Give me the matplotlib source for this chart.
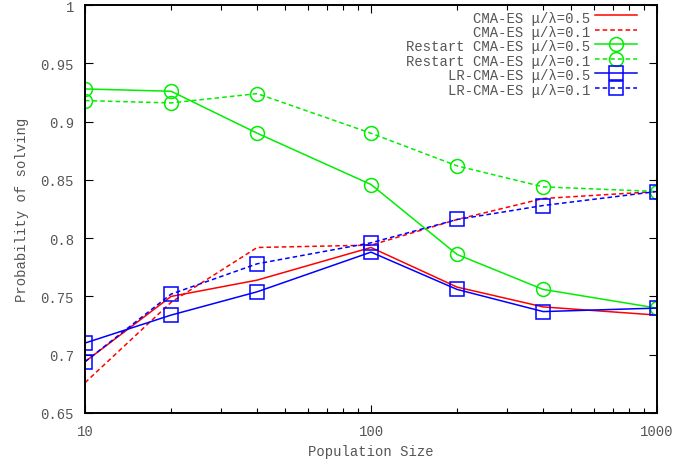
import matplotlib
matplotlib.use("Agg")
import matplotlib.pyplot as plt
from matplotlib.ticker import FuncFormatter, LogLocator, NullFormatter, MultipleLocator

pop = [10, 20, 40, 100, 200, 400, 1000]
cma_05 = [0.694, 0.750, 0.764, 0.792, 0.758, 0.741, 0.734]
cma_01 = [0.676, 0.745, 0.792, 0.794, 0.816, 0.834, 0.840]
rcma_05 = [0.928, 0.926, 0.890, 0.846, 0.786, 0.756, 0.740]
rcma_01 = [0.918, 0.916, 0.924, 0.890, 0.862, 0.844, 0.840]
lr_05 = [0.710, 0.734, 0.754, 0.788, 0.756, 0.737, 0.740]
lr_01 = [0.694, 0.752, 0.778, 0.796, 0.816, 0.828, 0.840]

labels = ["CMA-ES μ/λ=0.5", "CMA-ES μ/λ=0.1",
          "Restart CMA-ES μ/λ=0.5", "Restart CMA-ES μ/λ=0.1",
          "LR-CMA-ES μ/λ=0.5", "LR-CMA-ES μ/λ=0.1"]

plt.rcParams['font.family'] = ['Liberation Mono', 'DejaVu Sans']
txt = '#555555'

fig = plt.figure(figsize=(6.97, 4.64), dpi=100)
ax = fig.add_axes([85/697, 1-414/464, (657-85)/697, (414-6)/464])

dash = (0, (3, 2))
ms_c, ms_s = 10, 9.5
ax.plot(pop, cma_05, color='#ff0000', lw=1.1, ls='-', label=labels[0])
ax.plot(pop, cma_01, color='#ff0000', lw=1.1, ls=dash, label=labels[1])
ax.plot(pop, rcma_05, color='#00ee00', lw=1.1, ls='-', marker='o', ms=ms_c,
        mfc='none', mew=1.1, label=labels[2])
ax.plot(pop, rcma_01, color='#00ee00', lw=1.1, ls=dash, marker='o', ms=ms_c,
        mfc='none', mew=1.1, label=labels[3])
ax.plot(pop, lr_05, color='#0000ff', lw=1.1, ls='-', marker='s', ms=ms_s,
        mfc='none', mew=1.1, label=labels[4])
ax.plot(pop, lr_01, color='#0000ff', lw=1.1, ls=dash, marker='s', ms=ms_s,
        mfc='none', mew=1.1, label=labels[5])

ax.set_xscale('log')
ax.set_xlim(10, 1000)
ax.set_ylim(0.65, 1.0)
ax.yaxis.set_major_locator(MultipleLocator(0.05))
ax.yaxis.set_major_formatter(FuncFormatter(lambda v, p: f"{v:.2f}".rstrip('0').rstrip('.')))
ax.xaxis.set_major_formatter(FuncFormatter(lambda v, p: f"{int(round(v))}"))
ax.xaxis.set_minor_locator(LogLocator(base=10, subs=range(2, 10)))
ax.xaxis.set_minor_formatter(NullFormatter())

ax.tick_params(which='both', direction='in', top=True, right=True,
               labelsize=10, labelcolor=txt, color='#000000')
ax.tick_params(which='major', length=6, width=0.8, pad=8)
ax.tick_params(which='minor', length=3.5, width=0.8)
for s in ax.spines.values():
    s.set_linewidth(1.4)
    s.set_color('black')

ax.set_xlabel('Population Size', fontsize=10, color=txt, labelpad=4)
ax.set_ylabel('Probability of solving', fontsize=10, color=txt, labelpad=8)

leg = ax.legend(loc='upper right', bbox_to_anchor=(0.975, 1.0), frameon=False,
                markerfirst=False, fontsize=10, handlelength=3.0,
                labelspacing=0.03, borderaxespad=0.0, borderpad=0.4,
                handletextpad=0.4)
for t in leg.get_texts():
    t.set_color(txt)
    t.set_ha('right')
leg._legend_box.align = "right"
for hp in leg._legend_handle_box.get_children():
    for c in hp.get_children():
        c.align = "right"

fig.savefig('out.png', dpi=100)
